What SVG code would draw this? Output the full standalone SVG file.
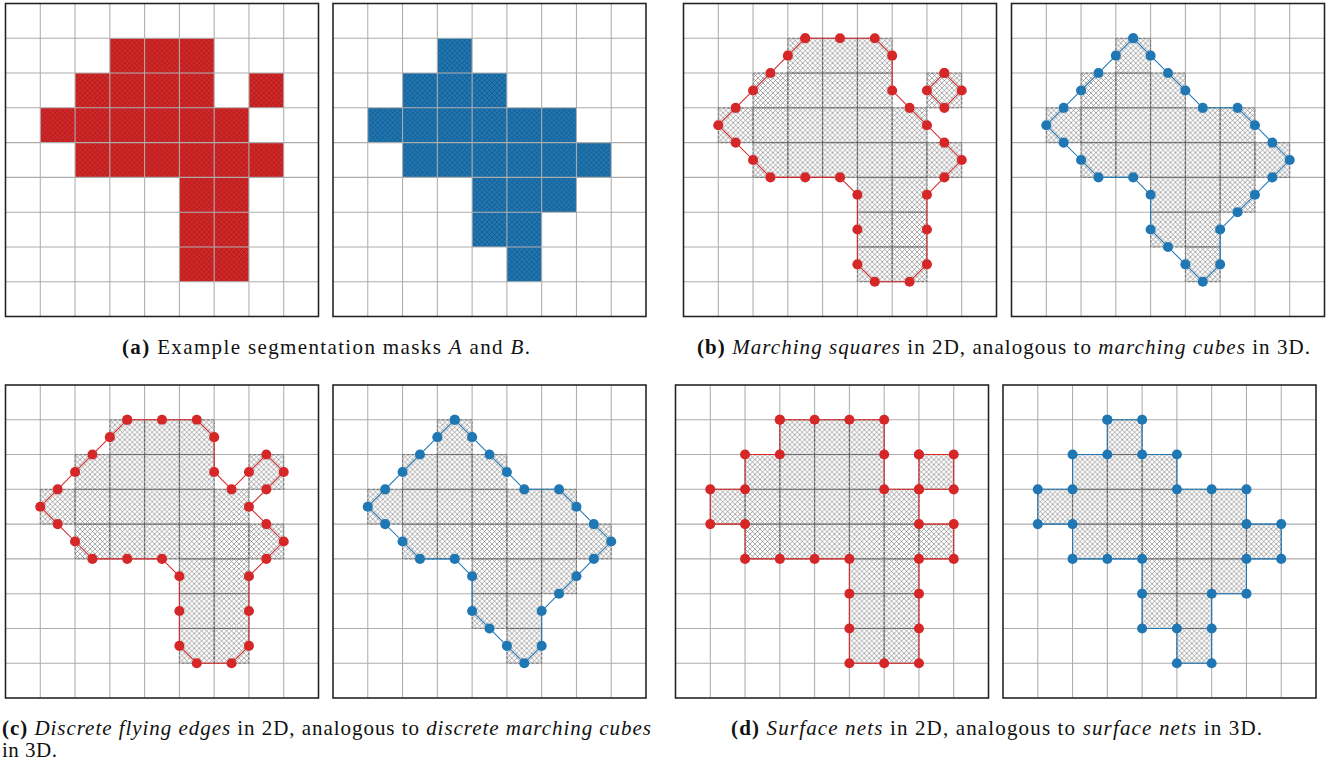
<svg xmlns="http://www.w3.org/2000/svg" width="1338" height="762" viewBox="0 0 1338 762">
<style>
.grid line{stroke:#adadad;stroke-width:0.03}
.frame{fill:none;stroke:#222;stroke-width:0.045}
.hx{fill:url(#hatch);stroke:#555;stroke-width:0.018;stroke-dasharray:0.08 0.05}
.cr{fill:none;stroke:#d62728;stroke-width:0.03;stroke-linejoin:round;marker-start:url(#dotR);marker-mid:url(#dotR);marker-end:url(#dotR)}
.cb{fill:none;stroke:#1f77b4;stroke-width:0.03;stroke-linejoin:round;marker-start:url(#dotB);marker-mid:url(#dotB);marker-end:url(#dotB)}
.cap{font-family:"Liberation Serif","Times New Roman",serif;font-size:21px;fill:#111}
.b{font-weight:bold}
.i{font-style:italic}
</style>
<defs>
<pattern id="hatch" patternUnits="userSpaceOnUse" width="0.142857" height="0.142857">
<path d="M0,0L0.142857,0.142857M0.142857,0L0,0.142857" stroke="#666" stroke-width="0.016" fill="none"/>
</pattern>
<pattern id="hatchR" patternUnits="userSpaceOnUse" width="0.142857" height="0.142857">
<path d="M0,0L0.142857,0.142857M0.142857,0L0,0.142857" stroke="#5a1010" stroke-width="0.02" stroke-opacity="0.45" fill="none"/>
</pattern>
<pattern id="hatchB" patternUnits="userSpaceOnUse" width="0.142857" height="0.142857">
<path d="M0,0L0.142857,0.142857M0.142857,0L0,0.142857" stroke="#0b2a45" stroke-width="0.02" stroke-opacity="0.45" fill="none"/>
</pattern>
<marker id="dotR" markerUnits="userSpaceOnUse" markerWidth="0.4" markerHeight="0.4" refX="0.2" refY="0.2" overflow="visible"><circle cx="0.2" cy="0.2" r="0.145" fill="#d62728"/></marker>
<marker id="dotB" markerUnits="userSpaceOnUse" markerWidth="0.4" markerHeight="0.4" refX="0.2" refY="0.2" overflow="visible"><circle cx="0.2" cy="0.2" r="0.145" fill="#1f77b4"/></marker>
<g id="grid" class="grid">
<line x1="1" y1="0" x2="1" y2="9"/><line x1="2" y1="0" x2="2" y2="9"/><line x1="3" y1="0" x2="3" y2="9"/><line x1="4" y1="0" x2="4" y2="9"/><line x1="5" y1="0" x2="5" y2="9"/><line x1="6" y1="0" x2="6" y2="9"/><line x1="7" y1="0" x2="7" y2="9"/><line x1="8" y1="0" x2="8" y2="9"/>
<line x1="0" y1="1" x2="9" y2="1"/><line x1="0" y1="2" x2="9" y2="2"/><line x1="0" y1="3" x2="9" y2="3"/><line x1="0" y1="4" x2="9" y2="4"/><line x1="0" y1="5" x2="9" y2="5"/><line x1="0" y1="6" x2="9" y2="6"/><line x1="0" y1="7" x2="9" y2="7"/><line x1="0" y1="8" x2="9" y2="8"/>
</g>
<g id="maskA">
<rect x="3" y="1" width="1" height="1"/><rect x="4" y="1" width="1" height="1"/><rect x="5" y="1" width="1" height="1"/>
<rect x="2" y="2" width="1" height="1"/><rect x="3" y="2" width="1" height="1"/><rect x="4" y="2" width="1" height="1"/><rect x="5" y="2" width="1" height="1"/><rect x="7" y="2" width="1" height="1"/>
<rect x="1" y="3" width="1" height="1"/><rect x="2" y="3" width="1" height="1"/><rect x="3" y="3" width="1" height="1"/><rect x="4" y="3" width="1" height="1"/><rect x="5" y="3" width="1" height="1"/><rect x="6" y="3" width="1" height="1"/>
<rect x="2" y="4" width="1" height="1"/><rect x="3" y="4" width="1" height="1"/><rect x="4" y="4" width="1" height="1"/><rect x="5" y="4" width="1" height="1"/><rect x="6" y="4" width="1" height="1"/><rect x="7" y="4" width="1" height="1"/>
<rect x="5" y="5" width="1" height="1"/><rect x="6" y="5" width="1" height="1"/>
<rect x="5" y="6" width="1" height="1"/><rect x="6" y="6" width="1" height="1"/>
<rect x="5" y="7" width="1" height="1"/><rect x="6" y="7" width="1" height="1"/>
</g>
<g id="maskB">
<rect x="3" y="1" width="1" height="1"/>
<rect x="2" y="2" width="1" height="1"/><rect x="3" y="2" width="1" height="1"/><rect x="4" y="2" width="1" height="1"/>
<rect x="1" y="3" width="1" height="1"/><rect x="2" y="3" width="1" height="1"/><rect x="3" y="3" width="1" height="1"/><rect x="4" y="3" width="1" height="1"/><rect x="5" y="3" width="1" height="1"/><rect x="6" y="3" width="1" height="1"/>
<rect x="2" y="4" width="1" height="1"/><rect x="3" y="4" width="1" height="1"/><rect x="4" y="4" width="1" height="1"/><rect x="5" y="4" width="1" height="1"/><rect x="6" y="4" width="1" height="1"/><rect x="7" y="4" width="1" height="1"/>
<rect x="4" y="5" width="1" height="1"/><rect x="5" y="5" width="1" height="1"/><rect x="6" y="5" width="1" height="1"/>
<rect x="4" y="6" width="1" height="1"/><rect x="5" y="6" width="1" height="1"/>
<rect x="5" y="7" width="1" height="1"/>
</g>
</defs>
<rect width="1338" height="762" fill="#fff"/>

<g id="panel-a-A" transform="translate(5.5,3.5) scale(34.778)">
<use href="#maskA" fill="#d62728"/>
<use href="#maskA" fill="url(#hatchR)"/>
<use href="#grid"/>
<rect class="frame" x="0" y="0" width="9" height="9"/>
</g>
<g id="panel-a-B" transform="translate(333,3.5) scale(34.778)">
<use href="#maskB" fill="#1f77b4"/>
<use href="#maskB" fill="url(#hatchB)"/>
<use href="#grid"/>
<rect class="frame" x="0" y="0" width="9" height="9"/>
</g>

<g id="panel-b-A" transform="translate(683.5,3.5) scale(34.778)">
<use href="#grid"/>
<use href="#maskA" class="hx"/>
<polygon class="cr" points="3.5,1 4.5,1 5.5,1 6,1.5 6,2.5 6.5,3 7,3.5 7.5,4 8,4.5 7.5,5 7,5.5 7,6.5 7,7.5 6.5,8 5.5,8 5,7.5 5,6.5 5,5.5 4.5,5 3.5,5 2.5,5 2,4.5 1.5,4 1,3.5 1.5,3 2,2.5 2.5,2 3,1.5"/>
<polygon class="cr" points="7.5,2 8,2.5 7.5,3 7,2.5"/>
<rect class="frame" x="0" y="0" width="9" height="9"/>
</g>
<g id="panel-b-B" transform="translate(1011.5,3.5) scale(34.778)">
<use href="#grid"/>
<use href="#maskB" class="hx"/>
<polygon class="cb" points="3.5,1 4,1.5 4.5,2 5,2.5 5.5,3 6.5,3 7,3.5 7.5,4 8,4.5 7.5,5 7,5.5 6.5,6 6,6.5 6,7.5 5.5,8 5,7.5 4.5,7 4,6.5 4,5.5 3.5,5 2.5,5 2,4.5 1.5,4 1,3.5 1.5,3 2,2.5 2.5,2 3,1.5"/>
<rect class="frame" x="0" y="0" width="9" height="9"/>
</g>

<g id="panel-c-A" transform="translate(5.5,385) scale(34.778)">
<use href="#grid"/>
<use href="#maskA" class="hx"/>
<polygon class="cr" points="3.5,1 4.5,1 5.5,1 6,1.5 6,2.5 6.5,3 7,2.5 7.5,2 8,2.5 7.5,3 7,3.5 7.5,4 8,4.5 7.5,5 7,5.5 7,6.5 7,7.5 6.5,8 5.5,8 5,7.5 5,6.5 5,5.5 4.5,5 3.5,5 2.5,5 2,4.5 1.5,4 1,3.5 1.5,3 2,2.5 2.5,2 3,1.5"/>
<rect class="frame" x="0" y="0" width="9" height="9"/>
</g>
<g id="panel-c-B" transform="translate(333,385) scale(34.778)">
<use href="#grid"/>
<use href="#maskB" class="hx"/>
<polygon class="cb" points="3.5,1 4,1.5 4.5,2 5,2.5 5.5,3 6.5,3 7,3.5 7.5,4 8,4.5 7.5,5 7,5.5 6.5,6 6,6.5 6,7.5 5.5,8 5,7.5 4.5,7 4,6.5 4,5.5 3.5,5 2.5,5 2,4.5 1.5,4 1,3.5 1.5,3 2,2.5 2.5,2 3,1.5"/>
<rect class="frame" x="0" y="0" width="9" height="9"/>
</g>

<g id="panel-d-A" transform="translate(675.5,385) scale(34.778)">
<use href="#grid"/>
<use href="#maskA" class="hx"/>
<polygon class="cr" points="3,1 4,1 5,1 6,1 6,2 6,3 7,3 7,4 8,4 8,5 7,5 7,6 7,7 7,8 6,8 5,8 5,7 5,6 5,5 4,5 3,5 2,5 2,4 1,4 1,3 2,3 2,2 3,2"/>
<polygon class="cr" points="7,2 8,2 8,3 7,3"/>
<rect class="frame" x="0" y="0" width="9" height="9"/>
</g>
<g id="panel-d-B" transform="translate(1003,385) scale(34.778)">
<use href="#grid"/>
<use href="#maskB" class="hx"/>
<polygon class="cb" points="3,1 4,1 4,2 5,2 5,3 6,3 7,3 7,4 8,4 8,5 7,5 7,6 6,6 6,7 6,8 5,8 5,7 4,7 4,6 4,5 3,5 2,5 2,4 1,4 1,3 2,3 2,2 3,2"/>
<rect class="frame" x="0" y="0" width="9" height="9"/>
</g>

<g id="captions">
<text class="cap" x="122" y="354" textLength="408" lengthAdjust="spacing"><tspan class="b">(a)</tspan> Example segmentation masks <tspan class="i">A</tspan> and <tspan class="i">B</tspan>.</text>
<text class="cap" x="697" y="354" textLength="613" lengthAdjust="spacing"><tspan class="b">(b)</tspan> <tspan class="i">Marching squares</tspan> in 2D, analogous to <tspan class="i">marching cubes</tspan> in 3D.</text>
<text class="cap" x="2" y="735" textLength="649" lengthAdjust="spacing"><tspan class="b">(c)</tspan> <tspan class="i">Discrete flying edges</tspan> in 2D, analogous to <tspan class="i">discrete marching cubes</tspan></text>
<text class="cap" x="2" y="757" textLength="55" lengthAdjust="spacing">in 3D.</text>
<text class="cap" x="731" y="735" textLength="531" lengthAdjust="spacing"><tspan class="b">(d)</tspan> <tspan class="i">Surface nets</tspan> in 2D, analogous to <tspan class="i">surface nets</tspan> in 3D.</text>
</g>
</svg>
